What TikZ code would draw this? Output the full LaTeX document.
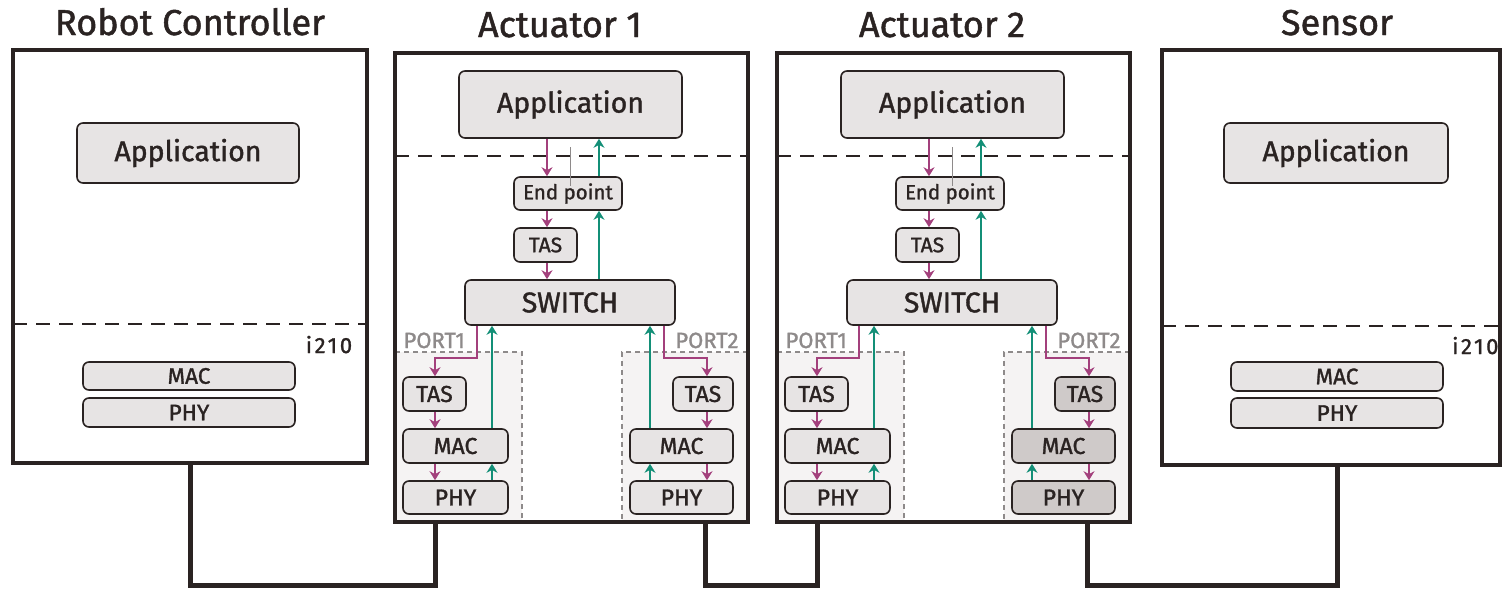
\documentclass[tikz,border=0pt]{standalone}
\usepackage{fontspec}
\setmainfont{Fira Sans}[FakeBold=1.3]
\usetikzlibrary{arrows.meta}

\definecolor{ink}{HTML}{2A2322}
\definecolor{blockfill}{HTML}{E7E4E4}
\definecolor{blockdark}{HTML}{CFCAC9}
\definecolor{portfill}{HTML}{F5F3F3}
\definecolor{portline}{HTML}{8E8A8A}
\definecolor{txflow}{HTML}{A3407C}
\definecolor{rxflow}{HTML}{138F77}

\newcommand{\fs}[1]{\fontsize{#1}{#1}\selectfont}

\tikzset{
  outer/.style={draw=ink, line width=3.5pt, rectangle, inner sep=0pt},
  blk/.style={draw=ink, fill=blockfill, line width=1.6pt, rounded corners=6pt,
    inner sep=0pt, text=ink},
  title/.style={anchor=base, text=ink, font=\fs{36}},
  sep/.style={draw=ink, line width=2.4pt, dash pattern=on 14pt off 9pt},
  portedge/.style={draw=portline, line width=1.6pt, dash pattern=on 5pt off 4pt},
  portlabel/.style={text=portline, font=\fs{22}},
  tx/.style={draw=txflow, line width=2.8pt, -{Stealth[length=9pt,width=11pt]}},
  rx/.style={draw=rxflow, line width=2.8pt, -{Stealth[length=9pt,width=11pt]}},
  link/.style={draw=ink, line width=5pt},
  hair/.style={draw=portline, line width=0.8pt},
  chip/.style={text=ink, font=\fs{22}\addfontfeature{LetterSpace=12}},
}

% #1 name prefix, #2 horizontal shift, #3 title, #4 fill of the port 2 blocks
\newcommand{\actuator}[4]{%
\begin{scope}[xshift=#2pt]
  % port areas
  \fill[portfill] (395,352) rectangle (522,522);
  \fill[portfill] (622,352) rectangle (748,522);
  \draw[portedge] (395,352) -- (522,352) -- (522,522);
  \draw[portedge] (748,352) -- (622,352) -- (622,522);
  % frame and title
  \node[outer, minimum width=353pt, minimum height=469pt] (#1box) at (571.5,287.5) {};
  \node[title] (#1title) at (560,37) {#3};
  \draw[sep] (395,156) -- (748,156);
  % stack
  \node[blk, minimum width=223pt, minimum height=67pt, font=\fs{28.5}] (#1app) at (570.5,104.5) {Application};
  \node[blk, minimum width=108pt, minimum height=33pt, font=\fs{20.5}] (#1ep) at (568,193.5) {End point};
  \node[blk, minimum width=63pt, minimum height=34pt, font=\fs{21}] (#1tas) at (545.5,245) {TAS};
  \node[blk, minimum width=210pt, minimum height=45pt, font=\fs{28.5}] (#1sw) at (570,302.5) {SWITCH};
  \draw[hair] (570,147) -- (570,186);
  % ports
  \node[portlabel, anchor=base west] (#1pa) at (400,348) {PORT1};
  \node[portlabel, anchor=base east] (#1pb) at (742,348) {PORT2};
  \node[blk, minimum width=63pt, minimum height=34pt, font=\fs{23}] (#1atas) at (434.5,394) {TAS};
  \node[blk, minimum width=105pt, minimum height=34pt, font=\fs{23}] (#1amac) at (455.5,446) {MAC};
  \node[blk, minimum width=105pt, minimum height=33pt, font=\fs{23}] (#1aphy) at (455.5,497.5) {PHY};
  \node[blk, fill=#4, minimum width=60pt, minimum height=34pt, font=\fs{23}] (#1btas) at (703,394) {TAS};
  \node[blk, fill=#4, minimum width=103pt, minimum height=34pt, font=\fs{23}] (#1bmac) at (681.5,446) {MAC};
  \node[blk, fill=#4, minimum width=103pt, minimum height=33pt, font=\fs{23}] (#1bphy) at (681.5,497.5) {PHY};
  % flow lanes
  \coordinate (#1tx) at (547,0);
  \coordinate (#1rx) at (599,0);
  \draw[tx] (#1app.south -| #1tx) -- (#1ep.north -| #1tx);
  \draw[tx] (#1ep.south -| #1tx) -- (#1tas.north -| #1tx);
  \draw[tx] (#1tas.south -| #1tx) -- (#1sw.north -| #1tx);
  \draw[rx] (#1ep.north -| #1rx) -- (#1app.south -| #1rx);
  \draw[rx] (#1sw.north -| #1rx) -- (#1ep.south -| #1rx);
  % port 1 lanes
  \coordinate (#1ta) at (477,0);
  \coordinate (#1tb) at (435,358);
  \coordinate (#1ra) at (492,0);
  \draw[tx] (#1sw.south -| #1ta) |- (#1tb) -- (#1atas.north -| #1tb);
  \draw[tx] (#1atas.south -| #1tb) -- (#1amac.north -| #1tb);
  \draw[tx] (#1amac.south -| #1tb) -- (#1aphy.north -| #1tb);
  \draw[rx] (#1aphy.north -| #1ra) -- (#1amac.south -| #1ra);
  \draw[rx] (#1amac.north -| #1ra) -- (#1sw.south -| #1ra);
  % port 2 lanes
  \coordinate (#1tc) at (664,0);
  \coordinate (#1td) at (707,358);
  \coordinate (#1rb) at (650,0);
  \draw[tx] (#1sw.south -| #1tc) |- (#1td) -- (#1btas.north -| #1td);
  \draw[tx] (#1btas.south -| #1td) -- (#1bmac.north -| #1td);
  \draw[tx] (#1bmac.south -| #1td) -- (#1bphy.north -| #1td);
  \draw[rx] (#1bphy.north -| #1rb) -- (#1bmac.south -| #1rb);
  \draw[rx] (#1bmac.north -| #1rb) -- (#1sw.south -| #1rb);
  % cable attachment points
  \coordinate (#1pl) at (435,522);
  \coordinate (#1pr) at (705,522);
\end{scope}}

\begin{document}
\begin{tikzpicture}[x=1pt, y=-1pt]
\useasboundingbox (0,0) rectangle (1502,590);

% robot controller
\node[outer, minimum width=354pt, minimum height=413pt] (rc) at (190,256.5) {};
\node[title] (rct) at (190,35) {Robot Controller};
\node[blk, minimum width=222pt, minimum height=60pt, font=\fs{28.5}] (rcapp) at (188,153) {Application};
\draw[sep] (13,324) -- (367,324);
\node[chip, anchor=base] (rci) at (329,353) {i210};
\node[blk, minimum width=212pt, minimum height=28pt, font=\fs{22.5}] (rcmac) at (189,376) {MAC};
\node[blk, minimum width=212pt, minimum height=29pt, font=\fs{22.5}] (rcphy) at (189,412.5) {PHY};

% actuators
\actuator{a1}{0}{Actuator 1}{blockfill}
\actuator{a2}{382}{Actuator 2}{blockdark}

% sensor
\node[outer, minimum width=338pt, minimum height=415pt] (sn) at (1331,257.5) {};
\node[title] (snt) at (1337,35) {Sensor};
\node[blk, minimum width=224pt, minimum height=60pt, font=\fs{28.5}] (snapp) at (1336,153) {Application};
\draw[sep] (1162,326) -- (1500,326);
\node[chip, anchor=base east] (sni) at (1502,354) {i210};
\node[blk, minimum width=212pt, minimum height=29pt, font=\fs{22.5}] (snmac) at (1337,376.5) {MAC};
\node[blk, minimum width=212pt, minimum height=30pt, font=\fs{22.5}] (snphy) at (1337,413) {PHY};
\coordinate (snl) at (1337,465);

% cabling
\coordinate (bus) at (0,585);
\draw[link] (rc.south) -- (bus -| rc.south) -- (bus -| a1pl) -- (a1pl);
\draw[link] (a1pr) -- (bus -| a1pr) -- (bus -| a2pl) -- (a2pl);
\draw[link] (a2pr) -- (bus -| a2pr) -- (bus -| snl) -- (snl);
\end{tikzpicture}
\end{document}
